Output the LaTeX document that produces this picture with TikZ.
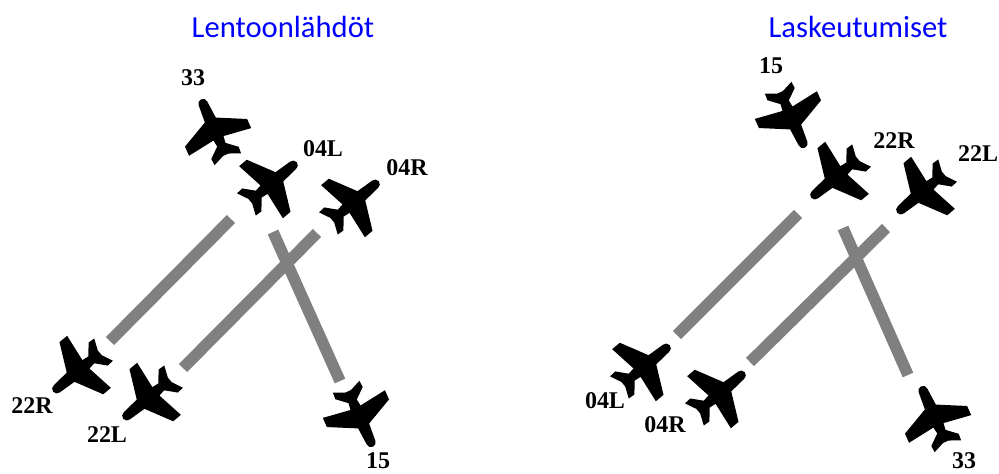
\documentclass[tikz,border=0pt]{standalone}
\usepackage{fontspec}
\setmainfont{Liberation Serif}
\newfontfamily\titlefont{Carlito}
\definecolor{runwaygray}{HTML}{808080}
\def\pxlen{0.0264cm}
\begin{document}
\begin{tikzpicture}[x=\pxlen,y=-\pxlen]
    \tikzset{runway/.style={draw=runwaygray,line width=11.5*\pxlen}}
    \tikzset{rwlabel/.style={font=\bfseries\fontsize{18pt}{18pt}\selectfont,inner sep=0pt}}
    \tikzset{airtitle/.style={font=\titlefont\fontsize{23pt}{23pt}\selectfont,text=blue,inner sep=0pt}}
    \tikzset{plane/.style={fill=black,draw=none}}
    % one plane, the nose tip at the origin of the scope
    \def\airplane#1#2#3{
        \fill[plane,shift={(#1,#2)},rotate=#3,x=\pxlen,y=\pxlen]
            (-5,4.7) arc (90:-90:4.7) -- (-23,-6) -- (-37,-34) -- (-47,-34) -- (-43,-5.5)
            -- (-50,-4.5) -- (-59,-15) -- (-66,-14.5) -- (-61,-3) -- (-61,3) -- (-66,14.5)
            -- (-59,15) -- (-50,4.5) -- (-43,5.5) -- (-47,34) -- (-37,34) -- (-23,6) -- cycle;
    }
    \useasboundingbox (0,0) rectangle (999,473);

    % Titles
    \node[airtitle] (T-dep) at (283,27) {Lentoonlähdöt};
    \node[airtitle] (T-arr) at (858,27) {Laskeutumiset};

    % Draw the runways
    \foreach \name/\ax/\ay/\bx/\by in {a/110/341/231/219,b/183/368/317/233,c/273/232/340/381,
                                       d/677/335/798/214,e/750/362/886/228,f/843/228/908/375}{
        \coordinate (R-\name-1) at (\ax,\ay);
        \coordinate (R-\name-2) at (\bx,\by);
        \draw[runway] (R-\name-1) -- (R-\name-2);
    }

    % Draw the planes, x / y of the nose and heading
    \foreach \x/\y/\a in {201/99/114,297/162/40,379/181/40,53/392/220,123/419/220,373/447/-66,
                          805/148/-66,811/198/220,897/213/220,670/345/40,745/372/40,921/386/114}
        {\airplane{\x}{\y}{\a}}

    % Runway numbers
    \foreach \name/\x/\y/\txt in {a/193/78/33,b/323/149/04L,c/407/168/04R,d/32/406/22R,e/107/435/22L,f/378/461/15,
                                  g/771/66/15,h/894/141/22R,i/978/154/22L,j/605/401/04L,k/665/425/04R,l/964/461/33}
        \node[rwlabel] (L-\name) at (\x,\y) {\txt};
\end{tikzpicture}
\end{document}
